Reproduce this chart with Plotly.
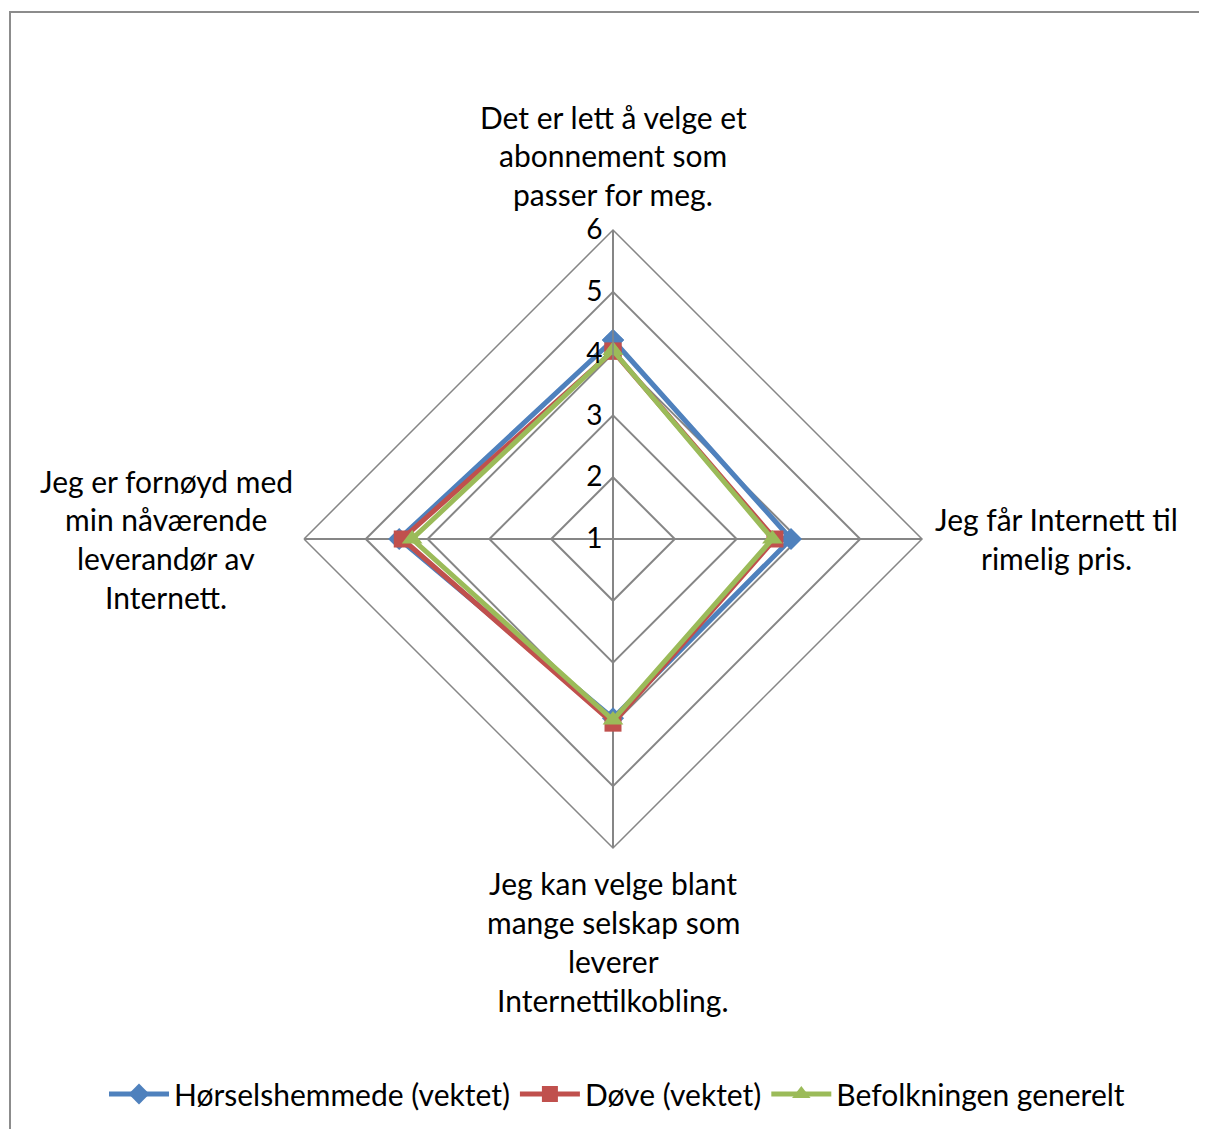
import plotly.graph_objects as go

categories = [
    "Det er lett å velge et abonnement som passer for meg.",
    "Jeg får Internett til rimelig pris.",
    "Jeg kan velge blant mange selskap som leverer Internettilkobling.",
    "Jeg er fornøyd med min nåværende leverandør av Internett.",
]
label_lines = [
    ["Det er lett å velge et", "abonnement som", "passer for meg."],
    ["Jeg får Internett til", "rimelig pris."],
    ["Jeg kan velge blant", "mange selskap som", "leverer", "Internettilkobling."],
    ["Jeg er fornøyd med", "min nåværende", "leverandør av", "Internett."],
]
series_names = ["Hørselshemmede (vektet)", "Døve (vektet)", "Befolkningen generelt"]
hoerselshemmede = [4.22, 3.88, 3.9, 4.46]
doeve = [4.04, 3.62, 3.98, 4.41]
befolkningen = [4.05, 3.58, 3.93, 4.25]
tick_vals = [1, 2, 3, 4, 5, 6]

colors = ["#4F81BD", "#C0504D", "#9BBB59"]
symbols = ["diamond", "square", "triangle-up"]
msizes = [17, 17, 18]

OFF = 8  # page body margin
W, H = 1207 - OFF, 1129 - OFF
FONT = "Lato"
FS = 30


def px(x):
    return (x - OFF) / W


def py(y):
    return 1 - (y - OFF) / H


fig = go.Figure()
for name, vals, col, sym, ms in zip(series_names, [hoerselshemmede, doeve, befolkningen], colors, symbols, msizes):
    fig.add_trace(go.Scatterpolar(
        r=vals + vals[:1],
        theta=categories + categories[:1],
        mode="lines+markers",
        name=name,
        line=dict(color=col, width=5),
        marker=dict(symbol=sym, size=ms, color=col),
    ))

cx, cy, R = 613, 539, 309
fig.update_layout(
    width=W, height=H,
    margin=dict(l=0, r=0, t=0, b=0),
    paper_bgcolor="white",
    plot_bgcolor="white",
    font=dict(family=FONT, color="black", size=FS),
    polar=dict(
        domain=dict(x=[px(cx - R), px(cx + R)], y=[py(cy + R), py(cy - R)]),
        bgcolor="white",
        gridshape="linear",
        radialaxis=dict(
            range=[1, 6], tickvals=tick_vals, angle=90, tickangle=90,
            side="counterclockwise",
            ticksuffix="\u00a0\u00a0\u00a0",
            showline=True, linecolor="#868686", linewidth=1.5,
            gridcolor="#868686", gridwidth=1.5, ticks="",
            tickfont=dict(size=28, family=FONT, color="black"),
        ),
        angularaxis=dict(
            rotation=90, direction="clockwise",
            showticklabels=False, ticks="",
            showline=True, linecolor="#868686", linewidth=1.5,
            gridcolor="#868686", gridwidth=1.5,
        ),
    ),
    showlegend=True,
    legend=dict(
        orientation="h", x=px(617), xanchor="center", y=py(1094), yanchor="middle",
        font=dict(size=FS, family=FONT), tracegroupgap=0, itemwidth=60,
    ),
)

# category labels
positions = [
    (613, [117, 155, 194]),
    (1056, [519, 558]),
    (613, [883, 922, 961, 1000]),
    (166, [481, 519, 558, 597]),
]
for lines, (x, ys) in zip(label_lines, positions):
    for line, y in zip(lines, ys):
        fig.add_annotation(
            text=line, x=px(x), y=py(y), xref="paper", yref="paper",
            showarrow=False, xanchor="center", yanchor="middle",
            font=dict(size=FS, family=FONT, color="black"),
        )

# outer frame
fig.add_shape(type="rect", xref="paper", yref="paper",
              x0=px(10), x1=1.02, y0=-0.02, y1=py(12),
              line=dict(color="#8c8c8c", width=2), fillcolor="rgba(0,0,0,0)", layer="below")

fig.write_html("out.html")
